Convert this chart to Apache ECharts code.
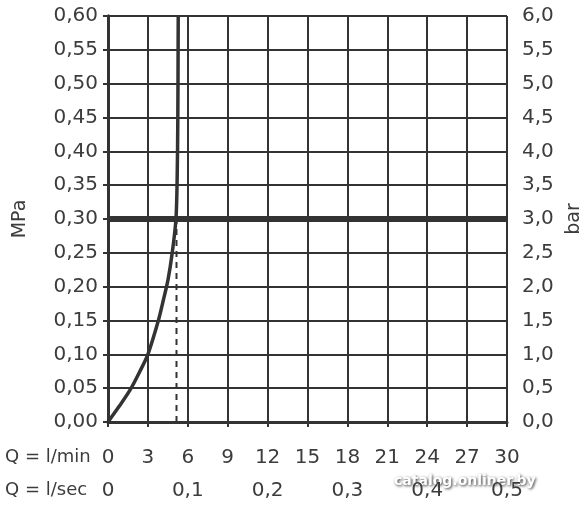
<!DOCTYPE html>
<html>
<head>
<meta charset="utf-8">
<script src="https://cdn.jsdelivr.net/npm/echarts@6/dist/echarts.min.js"></script>
<style>
  html, body { margin: 0; padding: 0; background: #fff; }
  #chart { width: 586px; height: 505px; }
</style>
</head>
<body>
<div id="chart"></div>
<script>
// flow curve: Q in l/min, pressure in MPa
const flowQ = [0, 0.8, 1.65, 2.4, 3.0, 3.76, 4.16, 4.51, 4.83, 5.11, 5.2, 5.25, 5.28]
const flowP = [0, 0.022, 0.047, 0.075, 0.10, 0.148, 0.18, 0.21, 0.25, 0.30, 0.36, 0.45, 0.60]
// working pressure line and the dashed drop to the flow axis
const workPressure = 0.30
const workFlow = 5.15
// axes
const qMin = [0, 30, 3]      // l/min: min, max, step
const qSec = [0, 0.5, 0.1]   // l/sec
const mpa = [0, 0.6, 0.05]
const bar = [0, 6, 0.5]

const ink = '#333'
const txt = '#3c3c3c'
const font = 'DejaVu Sans'

const chart = echarts.init(document.getElementById('chart'))

const lblStyle = { color: txt, fontSize: 20, fontFamily: font }

chart.setOption({
  animation: false,
  grid: { left: 108, right: 79, top: 16, bottom: 83, outerBoundsMode: 'none' },
  xAxis: [
    {
      type: 'value', min: qMin[0], max: qMin[1], interval: qMin[2],
      axisLine: { lineStyle: { color: ink, width: 3 } },
      axisTick: { show: true, length: 5, lineStyle: { color: ink, width: 2 } },
      splitLine: { show: true, lineStyle: { color: ink, width: 2 } },
      axisLabel: Object.assign({ margin: 26 }, lblStyle)
    },
    {
      type: 'value', position: 'bottom', offset: 33,
      min: qSec[0], max: qSec[1], interval: qSec[2],
      axisLine: { show: false }, axisTick: { show: false }, splitLine: { show: false },
      axisLabel: Object.assign({ margin: 26, formatter: v => v === 0 ? '0' : v.toFixed(1).replace('.', ',') }, lblStyle)
    }
  ],
  yAxis: [
    {
      type: 'value', min: mpa[0], max: mpa[1], interval: mpa[2],
      name: 'MPa', nameLocation: 'middle', nameGap: 78, nameRotate: 90,
      nameTextStyle: { color: txt, fontSize: 19, fontFamily: font },
      axisLine: { show: true, lineStyle: { color: ink, width: 3 } },
      axisTick: { show: true, length: 5, lineStyle: { color: ink, width: 2 } },
      splitLine: { show: true, lineStyle: { color: ink, width: 2 } },
      axisLabel: Object.assign({ margin: 10, formatter: v => v.toFixed(2).replace('.', ',') }, lblStyle)
    },
    {
      type: 'value', min: bar[0], max: bar[1], interval: bar[2],
      name: 'bar', nameLocation: 'middle', nameGap: 58, nameRotate: 90,
      nameTextStyle: { color: txt, fontSize: 19, fontFamily: font },
      axisLine: { show: true, lineStyle: { color: ink, width: 3 } },
      axisTick: { show: true, length: 5, lineStyle: { color: ink, width: 2 } },
      splitLine: { show: false },
      axisLabel: Object.assign({ margin: 15, formatter: v => v.toFixed(1).replace('.', ',') }, lblStyle)
    }
  ],
  graphic: [
    { type: 'text', left: 5, top: 448, style: { text: 'Q = l/min', fill: txt, font: '18px "' + font + '"' } },
    { type: 'text', left: 5, top: 481, style: { text: 'Q = l/sec', fill: txt, font: '18px "' + font + '"' } },
    {
      type: 'text', left: 394, top: 474,
      style: {
        text: 'catalog.onliner.by', fill: '#fff', font: 'bold 14px "' + font + '"',
        textShadowColor: 'rgba(0,0,0,0.8)', textShadowBlur: 3, textShadowOffsetX: 1, textShadowOffsetY: 1
      }
    }
  ],
  series: [
    {
      type: 'line', xAxisIndex: 0, yAxisIndex: 0, symbol: 'none',
      data: [[qMin[0], workPressure], [qMin[1], workPressure]],
      lineStyle: { color: ink, width: 6 }
    },
    {
      type: 'line', xAxisIndex: 0, yAxisIndex: 0, symbol: 'none',
      data: [[workFlow, 0], [workFlow, workPressure]],
      lineStyle: { color: ink, width: 2, type: [6, 5] }
    },
    {
      type: 'line', xAxisIndex: 0, yAxisIndex: 0, symbol: 'none', smooth: 0.3,
      data: flowQ.map((q, i) => [q, flowP[i]]),
      lineStyle: { color: ink, width: 3.5 }
    }
  ]
})
</script>
</body>
</html>
